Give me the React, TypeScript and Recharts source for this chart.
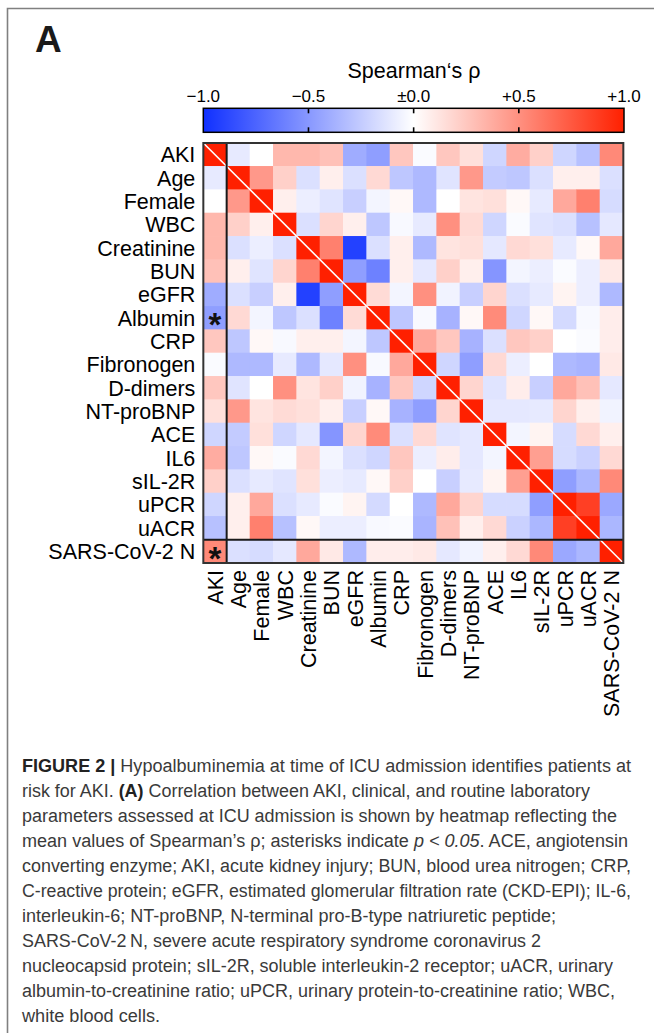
import React from 'react';
import { ScatterChart, Scatter, XAxis, YAxis, ReferenceLine, ReferenceArea } from 'recharts';

// ---------------- data ----------------
const variables = [
  'AKI', 'Age', 'Female', 'WBC', 'Creatinine', 'BUN', 'eGFR', 'Albumin', 'CRP',
  'Fibronogen', 'D-dimers', 'NT-proBNP', 'ACE', 'IL6', 'sIL-2R', 'uPCR', 'uACR', 'SARS-CoV-2 N',
];

// Spearman's rho of each variable with every variable after it (upper triangle)
const rhoAKI = [-0.10, 0.00, 0.32, 0.32, 0.28, -0.40, -0.47, 0.25, -0.02, 0.25, 0.14, -0.20, 0.37, 0.21, -0.20, -0.30, 0.53];
const rhoAge = [0.46, 0.21, -0.15, 0.07, -0.15, 0.17, -0.27, -0.34, -0.13, 0.46, -0.25, -0.27, -0.15, 0.07, 0.07, -0.15];
const rhoFemale = [0.07, -0.08, -0.13, -0.23, -0.05, 0.03, -0.34, 0.00, 0.12, 0.14, 0.03, -0.10, 0.39, 0.57, -0.17];
const rhoWBC = [-0.15, 0.19, 0.07, -0.27, -0.03, -0.10, 0.50, 0.16, -0.20, -0.02, -0.13, -0.15, -0.30, -0.11];
const rhoCreatinine = [0.57, -0.92, -0.15, 0.07, -0.34, 0.12, 0.14, -0.11, 0.17, 0.14, -0.10, 0.03, 0.39];
const rhoBUN = [-0.47, -0.61, 0.07, -0.11, 0.21, 0.07, -0.51, -0.05, -0.08, -0.02, -0.08, 0.10];
const rhoEGFR = [0.16, -0.05, 0.50, -0.06, -0.23, 0.19, -0.15, -0.10, 0.05, -0.08, -0.34];
const rhoAlbumin = [-0.27, -0.03, -0.37, 0.03, 0.52, -0.20, 0.03, -0.18, -0.03, 0.08];
const rhoCRP = [0.39, 0.25, -0.37, -0.15, 0.25, 0.21, 0.00, -0.02, 0.08];
const rhoFibronogen = [-0.20, -0.47, 0.17, -0.08, 0.00, -0.34, -0.36, 0.10];
const rhoDdimers = [0.19, -0.13, 0.08, -0.23, 0.39, 0.28, -0.11];
const rhoNTproBNP = [-0.11, -0.11, -0.10, 0.19, 0.07, -0.06];
const rhoACE = [-0.05, 0.05, -0.17, 0.17, 0.07];
const rhoIL6 = [0.43, -0.17, -0.22, 0.17];
const rhoSIL2R = [-0.47, -0.35, 0.53];
const rhoUPCR = [0.86, -0.42];
const rhoUACR = [-0.35];
const rhoSARS: number[] = [];

const upperRows = [
  rhoAKI, rhoAge, rhoFemale, rhoWBC, rhoCreatinine, rhoBUN, rhoEGFR, rhoAlbumin, rhoCRP,
  rhoFibronogen, rhoDdimers, rhoNTproBNP, rhoACE, rhoIL6, rhoSIL2R, rhoUPCR, rhoUACR, rhoSARS,
];

// cells marked with an asterisk (p < 0.05)
const significantRows = [7, 17];
const significantCols = [0, 0];

const colorbarTicks = [-1, -0.5, 0, 0.5, 1];
const colorbarLabels = ['\u22121.0', '\u22120.5', '\u00b10.0', '+0.5', '+1.0'];

const captionLines: { text: string; bold?: boolean; italic?: boolean }[][] = [
  [{ text: 'FIGURE 2 | ', bold: true }, { text: 'Hypoalbuminemia at time of ICU admission identifies patients at' }],
  [{ text: 'risk for AKI. ' }, { text: '(A)', bold: true }, { text: ' Correlation between AKI, clinical, and routine laboratory' }],
  [{ text: 'parameters assessed at ICU admission is shown by heatmap reflecting the' }],
  [{ text: 'mean values of Spearman\u2019s \u03c1; asterisks indicate ' }, { text: 'p < 0.05', italic: true }, { text: '. ACE, angiotensin' }],
  [{ text: 'converting enzyme; AKI, acute kidney injury; BUN, blood urea nitrogen; CRP,' }],
  [{ text: 'C-reactive protein; eGFR, estimated glomerular filtration rate (CKD-EPI); IL-6,' }],
  [{ text: 'interleukin-6; NT-proBNP, N-terminal pro-B-type natriuretic peptide;' }],
  [{ text: 'SARS-CoV-2\u2009N, severe acute respiratory syndrome coronavirus 2' }],
  [{ text: 'nucleocapsid protein; sIL-2R, soluble interleukin-2 receptor; uACR, urinary' }],
  [{ text: 'albumin-to-creatinine ratio; uPCR, urinary protein-to-creatinine ratio; WBC,' }],
  [{ text: 'white blood cells.' }],
];
const captionLineEnds = [631, 590, 617, 628, 631, 631, 556, 541, 613, 615, 160];

// ---------------- helpers ----------------
const NEG_END = [16, 48, 255];
const POS_END = [255, 32, 0];
function rhoColor(v: number) {
  const t = Math.min(1, Math.abs(v));
  const end = v < 0 ? NEG_END : POS_END;
  const c = end.map((e) => Math.round(255 + (e - 255) * t));
  return `rgb(${c[0]},${c[1]},${c[2]})`;
}

const N = variables.length;
function rhoAt(r: number, c: number) {
  if (r === c) return 1;
  if (c > r) return upperRows[r][c - r - 1];
  return upperRows[c][r - c - 1];
}

const cells: { x: number; y: number; v: number; star: boolean }[] = [];
for (let r = 0; r < N; r++) {
  for (let c = 0; c < N; c++) {
    const star = significantRows.some((sr, i) => sr === r && significantCols[i] === c);
    cells.push({ x: c, y: r, v: rhoAt(r, c), star });
  }
}
const indexTicks = variables.map((_, i) => i);

// layout
const CHART_W = 654;
const CHART_H = 740;
const PLOT_LEFT = 203.33;
const PLOT_TOP = 143;
const PLOT_SIZE = 420;
const CELL = PLOT_SIZE / N;
const FONT = '"Liberation Sans", Arial, Helvetica, sans-serif';

const CellShape = (props: any) => {
  const { cx, cy, payload } = props;
  if (cx == null || cy == null) return null;
  return (
    <g>
      <rect
        x={cx - CELL / 2 - 0.3}
        y={cy - CELL / 2 - 0.3}
        width={CELL + 0.6}
        height={CELL + 0.6}
        fill={rhoColor(payload.v)}
      />
      {payload.star && (
        <text
          x={cx}
          y={cy}
          dy="0.56em"
          textAnchor="middle"
          fontFamily={FONT}
          fontWeight="bold"
          fontSize={33}
          fill="#111"
        >
          *
        </text>
      )}
    </g>
  );
};

const YTick = (props: any) => {
  const { x, y, payload } = props;
  return (
    <text x={x} y={y} dy="0.36em" textAnchor="end" fontFamily={FONT} fontSize={21.5} fill="#000">
      {variables[payload.value]}
    </text>
  );
};

const XTick = (props: any) => {
  const { x, y, payload } = props;
  return (
    <text
      x={x}
      y={y}
      dy="0.36em"
      textAnchor="end"
      transform={`rotate(-90, ${x}, ${y})`}
      fontFamily={FONT}
      fontSize={21.5}
      fill="#000"
    >
      {variables[payload.value]}
    </text>
  );
};

// colorbar geometry
const CB_X = 203.3;
const CB_Y = 108.3;
const CB_W = 420.7;
const CB_H = 24;
const cbPos = (v: number) => CB_X + ((v + 1) / 2) * CB_W;

export default function App() {
  return (
    <div
      style={{
        position: 'absolute',
        left: 0,
        top: 0,
        width: 654,
        height: 1033,
        background: '#fff',
        overflow: 'hidden',
      }}
    >
      <div style={{ position: 'absolute', left: 0, top: 0 }}>
        <ScatterChart
          width={CHART_W}
          height={CHART_H}
          margin={{ top: PLOT_TOP, right: CHART_W - PLOT_LEFT - PLOT_SIZE, bottom: 0, left: 0 }}
        >
          <XAxis
            type="number"
            dataKey="x"
            domain={[-0.5, N - 0.5]}
            ticks={indexTicks}
            interval={0}
            allowDataOverflow
            axisLine={false}
            tickLine={false}
            tickSize={0}
            tickMargin={7}
            height={CHART_H - PLOT_TOP - PLOT_SIZE}
            tick={<XTick />}
          />
          <YAxis
            type="number"
            dataKey="y"
            domain={[-0.5, N - 0.5]}
            ticks={indexTicks}
            interval={0}
            reversed
            allowDataOverflow
            axisLine={false}
            tickLine={false}
            tickSize={0}
            tickMargin={8}
            width={PLOT_LEFT}
            tick={<YTick />}
          />
          <Scatter data={cells} shape={(p: any) => <CellShape {...p} />} isAnimationActive={false} />
          <ReferenceLine
            segment={[{ x: -0.5, y: -0.5 }, { x: N - 0.5, y: N - 0.5 }]}
            stroke="#ffffff"
            strokeWidth={1.6}
            zIndex={1000}
          />
          <ReferenceLine x={0.5} stroke="#1a1a1a" strokeWidth={2} zIndex={1000} />
          <ReferenceLine y={N - 1.5} stroke="#1a1a1a" strokeWidth={2} zIndex={1000} />
          <ReferenceArea
            x1={-0.5}
            x2={N - 0.5}
            y1={-0.5}
            y2={N - 0.5}
            fill="none"
            fillOpacity={0}
            stroke="#333"
            strokeWidth={2}
            zIndex={1000}
          />
        </ScatterChart>
      </div>

      <svg
        width={654}
        height={1033}
        style={{ position: 'absolute', left: 0, top: 0, pointerEvents: 'none' }}
      >
        <defs>
          <linearGradient id="rhoGrad" x1="0" x2="1" y1="0" y2="0">
            {colorbarTicks.map((v) => (
              <stop key={v} offset={`${((v + 1) / 2) * 100}%`} stopColor={rhoColor(v)} />
            ))}
          </linearGradient>
        </defs>

        {/* figure frame */}
        <path d="M7.5 1033 V8.5 H654" fill="none" stroke="#808080" strokeWidth={1.6} />

        {/* panel letter */}
        <text x={35} y={52} fontFamily={FONT} fontWeight="bold" fontSize={37} fill="#1a1a1a">
          A
        </text>

        {/* colorbar */}
        <text x={414} y={78} textAnchor="middle" fontFamily={FONT} fontSize={21.5} fill="#000">
          Spearman{'\u2018'}s {'\u03c1'}
        </text>
        {colorbarTicks.map((v, i) => (
          <text
            key={`cbl${i}`}
            x={cbPos(v)}
            y={102}
            textAnchor="middle"
            fontFamily={FONT}
            fontSize={17}
            fill="#000"
          >
            {colorbarLabels[i]}
          </text>
        ))}
        <rect x={CB_X} y={CB_Y} width={CB_W} height={CB_H} fill="url(#rhoGrad)" stroke="#000" strokeWidth={1.5} />
        {colorbarTicks.slice(1, -1).map((v, i) => (
          <g key={`cbt${i}`}>
            <line x1={cbPos(v)} x2={cbPos(v)} y1={CB_Y} y2={CB_Y + 5} stroke="#000" strokeWidth={1.6} />
            <line x1={cbPos(v)} x2={cbPos(v)} y1={CB_Y + CB_H - 5} y2={CB_Y + CB_H} stroke="#000" strokeWidth={1.6} />
          </g>
        ))}

        {/* caption */}
        {captionLines.map((parts, i) => (
          <text
            key={`cap${i}`}
            x={22}
            y={771.7 + 25 * i}
            fontFamily={'"Liberation Sans Narrow", "Liberation Sans", Arial, sans-serif'}
            fontSize={18}
            fill="#3a3a3a"
            textLength={captionLineEnds[i] - 22}
            lengthAdjust="spacingAndGlyphs"
          >
            {parts.map((p, j) => (
              <tspan
                key={j}
                fontWeight={p.bold ? 'bold' : 'normal'}
                fontStyle={p.italic ? 'italic' : 'normal'}
                fill={p.bold ? '#222' : '#3a3a3a'}
              >
                {p.text}
              </tspan>
            ))}
          </text>
        ))}
      </svg>
    </div>
  );
}
